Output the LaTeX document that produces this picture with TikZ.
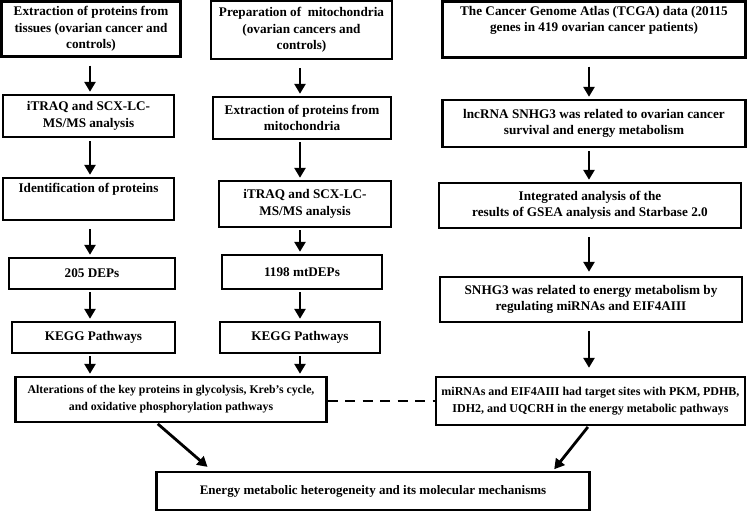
\documentclass[tikz,border=0pt]{standalone}
\usepackage{fontspec}
\setmainfont{Liberation Serif}
\usetikzlibrary{arrows.meta,positioning}

\begin{document}
\begin{tikzpicture}[x=1pt,y=-1pt,
		box/.style={draw, line width=2.4pt, rectangle, align=center, inner sep=1pt,
			font=\fontsize{13.2}{16.5}\selectfont\bfseries},
		smallbox/.style={box, font=\fontsize{12}{17}\selectfont\bfseries},
		arr/.style={line width=2.8pt, -{Triangle[width=11pt,length=10pt]}, shorten <=8pt, shorten >=2pt},
		link/.style={line width=2.6pt, dash pattern=on 10pt off 7.5pt}]
			\useasboundingbox (0,0) rectangle (748,512);
			% columns of arrows
			\coordinate (cl) at (90,0);
			\coordinate (cm) at (300,0);
			\coordinate (cr) at (589,0);
			\coordinate (dy) at (0,401);
			
			% left column
			\node (L1) [box, minimum width=179pt, minimum height=55pt] at (91,29) {Extraction of proteins from\\ tissues (ovarian cancer and\\ controls)};
			\node (L2) [box, minimum width=171pt, minimum height=42pt] at (88.5,116) {iTRAQ and SCX-LC-\\ MS/MS analysis};
			\node (L3) [box, minimum width=171pt, minimum height=42pt] at (88.5,199) {Identification of proteins\\ \strut};
			\node (L4) [box, minimum width=166pt, minimum height=31pt] at (92,273.5) {205 DEPs};
			\node (L5) [box, minimum width=163pt, minimum height=31pt] at (93.5,337.5) {KEGG Pathways};
			
			% middle column
			\node (M1) [box, minimum width=181pt, minimum height=58pt] at (301.5,30) {Preparation of\ \ mitochondria\\ (ovarian cancers and\\ controls)};
			\node (M2) [box, minimum width=178pt, minimum height=42pt] at (302,118) {Extraction of proteins from\\ mitochondria};
			\node (M3) [box, minimum width=172pt, minimum height=46pt] at (305,204) {iTRAQ and SCX-LC-\\ MS/MS analysis};
			\node (M4) [box, minimum width=160pt, minimum height=34pt] at (302,272) {1198 mtDEPs};
			\node (M5) [box, minimum width=160pt, minimum height=31pt] at (300,337.5) {KEGG Pathways};
			
			% right column
			\node (R1) [box, minimum width=303pt, minimum height=56pt] at (594,29.5) {The Cancer Genome Atlas (TCGA) data (20115\\ genes in 419 ovarian cancer patients)\\ \strut};
			\node (R2) [box, minimum width=303pt, minimum height=47pt] at (594,123.5) {lncRNA SNHG3 was related to ovarian cancer\\ survival and energy metabolism};
			\node (R3) [box, minimum width=302pt, minimum height=45pt] at (590,205.5) {Integrated analysis of the\\ results of GSEA analysis and Starbase 2.0};
			\node (R4) [box, minimum width=302pt, minimum height=45pt] at (591,299.5) {SNHG3 was related to energy metabolism by\\ regulating miRNAs and EIF4AIII};
			\node (R5) [smallbox, minimum width=309pt, minimum height=48pt] at (590.5,401) {miRNAs and EIF4AIII had target sites with PKM, PDHB,\\ IDH2, and UQCRH in the energy metabolic pathways};
			
			% merged results
			\node (A) [smallbox, font=\fontsize{11.8}{17}\selectfont\bfseries, minimum width=311pt, minimum height=45pt] at (171,399.5) {Alterations of the key proteins in glycolysis, Kreb's cycle,\\ and oxidative phosphorylation pathways};
			\node (E) [smallbox, font=\fontsize{13}{15}\selectfont\bfseries, minimum width=433pt, minimum height=38pt] at (373,491) {Energy metabolic heterogeneity and its molecular mechanisms};
			
			\draw [arr] (L1.south -| cl) -- (L2.north -| cl);
			\draw [arr, shorten <=3pt] (L2.south -| cl) -- (L3.north -| cl);
			\draw [arr] (L3.south -| cl) -- (L4.north -| cl);
			\draw [arr, shorten <=2pt] (L4.south -| cl) -- (L5.north -| cl);
			\draw [arr, shorten <=2pt] (L5.south -| cl) -- (A.north -| cl);
			
			\draw [arr] (M1.south -| cm) -- (M2.north -| cm);
			\draw [arr, shorten <=2pt] (M2.south -| cm) -- (M3.north -| cm);
			\draw [arr, shorten <=2pt] (M3.south -| cm) -- (M4.north -| cm);
			\draw [arr, shorten <=2pt] (M4.south -| cm) -- (M5.north -| cm);
			\draw [arr, shorten <=2pt] (M5.south -| cm) -- (A.north -| cm);
			
			\draw [arr] (R1.south -| cr) -- (R2.north -| cr);
			\draw [arr, shorten <=3pt] (R2.south -| cr) -- (R3.north -| cr);
			\draw [arr, shorten >=4pt] (R3.south -| cr) -- (R4.north -| cr);
			\draw [arr, shorten >=8pt] (R4.south -| cr) -- (R5.north -| cr);
			
			\draw [link] (A.east |- dy) -- (R5.west |- dy);
			\draw [arr, shorten <=1pt, shorten >=6pt] ([xshift=-14pt]A.south) -- ([xshift=-161pt]E.north);
			\draw [arr, shorten <=1pt, shorten >=2pt] ([xshift=-2pt]R5.south) -- ([xshift=180pt]E.north);
		\end{tikzpicture}
\end{document}
